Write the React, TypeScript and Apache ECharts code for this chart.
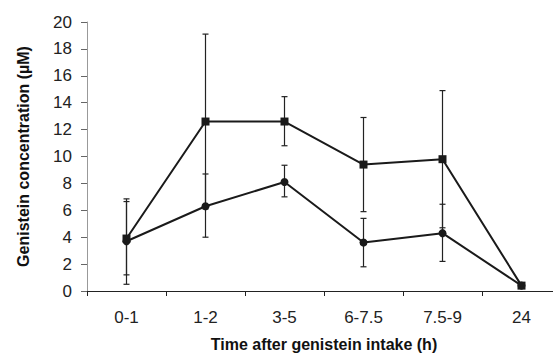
import React, { useEffect, useRef } from "react";
import * as echarts from "echarts";

const categories = ["0-1", "1-2", "3-5", "6-7.5", "7.5-9", "24"];
const squareValues = [3.9, 12.6, 12.6, 9.4, 9.8, 0.4];
const squareLow = [0.5, 6.1, 10.8, 5.9, 4.7, 0.4];
const squareHigh = [6.85, 19.1, 14.45, 12.9, 14.9, 0.4];
const circleValues = [3.7, 6.3, 8.1, 3.6, 4.3, 0.4];
const circleLow = [1.2, 4.0, 7.0, 1.8, 2.2, 0.4];
const circleHigh = [6.65, 8.7, 9.35, 5.4, 6.45, 0.4];

const FONT = "'Liberation Sans', Arial, sans-serif";

function errorSeries(low: number[], high: number[]) {
  return {
    type: "custom",
    silent: true,
    z: 1,
    renderItem: (params: any, api: any) => {
      const x = api.value(0);
      const lo = api.coord([x, api.value(1)]);
      const hi = api.coord([x, api.value(2)]);
      const cap = 3;
      const style = { stroke: "#222", lineWidth: 1.2 };
      return {
        type: "group",
        children: [
          { type: "line", shape: { x1: lo[0], y1: lo[1], x2: hi[0], y2: hi[1] }, style },
          { type: "line", shape: { x1: lo[0] - cap, y1: lo[1], x2: lo[0] + cap, y2: lo[1] }, style },
          { type: "line", shape: { x1: hi[0] - cap, y1: hi[1], x2: hi[0] + cap, y2: hi[1] }, style },
        ],
      };
    },
    data: categories.map((_, i) => [i, low[i], high[i]]),
  };
}

export default function App() {
  const ref = useRef<HTMLDivElement>(null);
  useEffect(() => {
    if (!ref.current) return;
    const chart = echarts.init(ref.current, undefined, { renderer: "svg" });
    chart.setOption({
      animation: false,
      backgroundColor: "#fff",
      grid: { left: 87, top: 22, width: 474, height: 269, outerBoundsMode: "none", containLabel: false },
      xAxis: {
        type: "category",
        data: categories,
        boundaryGap: true,
        name: "Time after genistein intake (h)",
        nameLocation: "middle",
        nameGap: 45,
        nameTextStyle: { fontFamily: FONT, fontWeight: "bold", fontSize: 16, color: "#111" },
        axisLine: { lineStyle: { color: "#222", width: 1.2 } },
        axisTick: { show: true, length: 5, lineStyle: { color: "#222" } },
        axisLabel: { fontFamily: FONT, fontSize: 17, color: "#222", margin: 18 },
      },
      yAxis: {
        type: "value",
        min: 0,
        max: 20,
        interval: 2,
        name: "Genistein concentration (µM)",
        nameLocation: "middle",
        nameGap: 56,
        nameTextStyle: { fontFamily: FONT, fontWeight: "bold", fontSize: 16, color: "#111" },
        axisLine: { show: true, lineStyle: { color: "#999", width: 1 } },
        axisTick: { show: true, length: 6, lineStyle: { color: "#666" } },
        splitLine: { show: false },
        axisLabel: { fontFamily: FONT, fontSize: 17, color: "#222", margin: 15 },
      },
      series: [
        errorSeries(squareLow, squareHigh),
        errorSeries(circleLow, circleHigh),
        {
          type: "line",
          data: circleValues,
          symbol: "circle",
          symbolSize: 8,
          z: 3,
          lineStyle: { color: "#1a1a1a", width: 2 },
          itemStyle: { color: "#1a1a1a" },
        },
        {
          type: "line",
          data: squareValues,
          symbol: "rect",
          symbolSize: 8,
          z: 4,
          lineStyle: { color: "#1a1a1a", width: 2 },
          itemStyle: { color: "#1a1a1a" },
        },
      ],
    });
    return () => chart.dispose();
  }, []);
  return <div ref={ref} style={{ width: 553, height: 355, position: "absolute", left: 0, top: 0 }} />;
}
